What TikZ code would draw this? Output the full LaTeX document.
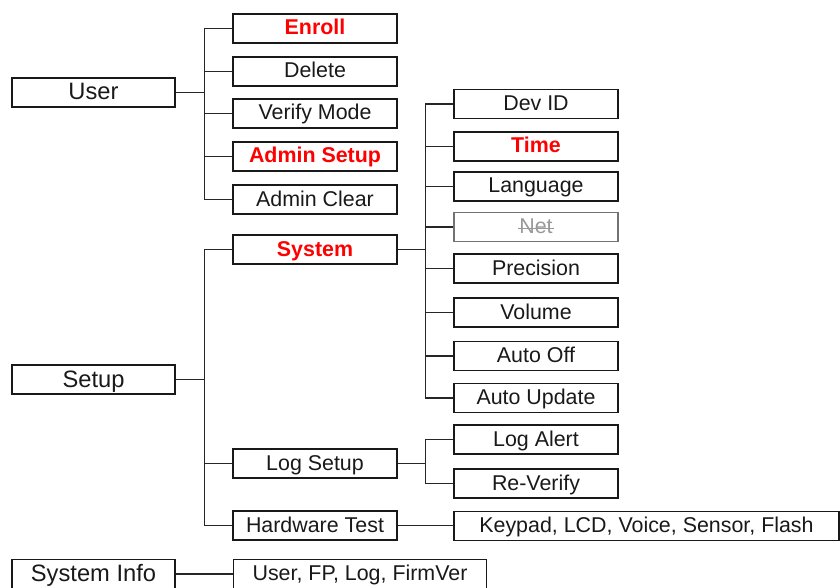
\documentclass[tikz,border=0pt]{standalone}
\usepackage{fontspec}
\setmainfont{Liberation Sans}
\begin{document}
\begin{tikzpicture}[x=1pt,y=-1pt,
  base/.style={draw=black!90, line width=1.2pt, rectangle, inner sep=0pt, minimum height=29pt, text=black!90},
  mainbox/.style={base, minimum width=163pt, text height=17pt, text depth=2pt, font=\fontsize{23.7}{26}\selectfont},
  subbox/.style={base, minimum width=164pt, text height=15.5pt, text depth=2.5pt, font=\fontsize{21.4}{24}\selectfont},
  hot/.style={text=red, font=\fontsize{21.4}{24}\selectfont\bfseries},
  off/.style={draw=black!55, text=black!40},
  wire/.style={draw=black!85, line width=1.2pt}
]
\useasboundingbox (0,0) rectangle (840,588);

% level 1
\node[mainbox] (user)  at (93.5,92.5) {User};
\node[mainbox] (setup) at (93.5,379.5) {Setup};
\node[mainbox] (info)  at (93.5,574) {System Info};

% level 2
\node[subbox,hot] (enroll) at (315,28.5) {Enroll};
\node[subbox] (delete) at (315,71.5) {Delete};
\node[subbox] (verify) at (315,113.5) {Verify Mode};
\node[subbox,hot] (adminsetup) at (315,156.5) {Admin Setup};
\node[subbox] (adminclear) at (315,199.5) {Admin Clear};
\node[subbox,hot] (system) at (315,249.5) {System};
\node[subbox] (logsetup) at (315,463.5) {Log Setup};
\node[subbox] (hwtest) at (315,525.5) {Hardware Test};
\node[subbox, minimum width=253pt] (infolist) at (360,574) {User, FP, Log, FirmVer};

% level 3
\node[subbox] (devid) at (536,104) {Dev ID};
\node[subbox,hot] (time) at (536,146.5) {Time};
\node[subbox] (lang) at (536,186.5) {Language};
\node[subbox,off] (net) at (536,227) {Net};
\node[subbox] (prec) at (536,268.5) {Precision};
\node[subbox] (vol) at (536,312.5) {Volume};
\node[subbox] (autooff) at (536,356) {Auto Off};
\node[subbox] (autoupd) at (536,398) {Auto Update};
\node[subbox] (logalert) at (536,439.5) {Log Alert};
\node[subbox] (reverify) at (536,483.5) {Re-Verify};
\node[subbox, minimum width=385pt] (hwlist) at (646.5,526) {Keypad, LCD, Voice, Sensor, Flash};

% strike-through on Net
\draw[black!40, line width=1pt] ([xshift=-18pt,yshift=-1.5pt]net.center) -- ([xshift=18pt,yshift=-1.5pt]net.center);

% connectors
\foreach \c in {enroll,delete,verify,adminsetup,adminclear}
  \draw[wire] (user.east) -- ++(29,0) |- (\c.west);
\foreach \c in {system,logsetup,hwtest}
  \draw[wire] (setup.east) -- ++(29,0) |- (\c.west);
\foreach \c in {devid,time,lang,net,prec,vol,autooff,autoupd}
  \draw[wire] (system.east) -- ++(28,0) |- (\c.west);
\foreach \c in {logalert,reverify}
  \draw[wire] (logsetup.east) -- ++(28,0) |- (\c.west);
\draw[wire] (hwtest.east) -- (hwtest.east -| hwlist.west);
\draw[wire] (info.east) -- (info.east -| infolist.west);
\end{tikzpicture}
\end{document}
